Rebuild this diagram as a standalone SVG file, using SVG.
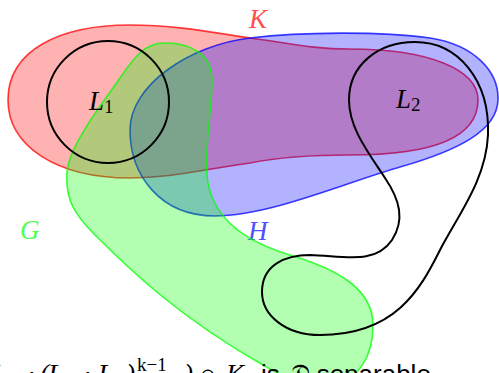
<svg xmlns="http://www.w3.org/2000/svg" width="499" height="373" viewBox="0 0 499 373">
<style>
.set{stroke-width:1.6;fill-opacity:0.3;stroke-opacity:0.75}
.red{fill:#ff0000;stroke:#ff0000}
.blue{fill:#0000ff;stroke:#0000ff}
.green{fill:#00ff00;stroke:#00ff00}
.lang{fill:none;stroke:#000;stroke-width:2}
.m{font-family:"Liberation Serif","DejaVu Serif",serif;font-style:italic;font-size:27px}
.sub{font-family:"Liberation Serif","DejaVu Serif",serif;font-style:normal;font-size:19px}
.t{font-family:"Liberation Sans","DejaVu Sans",sans-serif;font-size:26px}
</style>
<rect width="499" height="373" fill="#fff"/>
<g id="K">
<path class="set red" d="M 8,100 C 8,50 60,25 130,25 C 180,25 220,34 250,38 C 290,43 310,49 350,49 C 430,49 478,70 478,100 C 478,135 440,155 350,155 C 300,155 270,159 250,163 C 200,170 170,178 130,178 C 55,178 8,145 8,100 Z"/>
<text class="m" x="249" y="28" fill="#ff5050">K</text>
</g>
<g id="H">
<path class="set blue" d="M 130,130 C 130,85 190,45 250,38 C 300,32 380,31 430,38 C 475,45 499,72 498,100 C 497,130 460,150 400,167 C 350,181 270,216 215,216 C 160,216 130,175 130,130 Z"/>
<text class="m" x="248" y="240" fill="#5050ff">H</text>
</g>
<g id="G">
<path class="set green" d="M 165,43 C 192,43 212,55 212,80 C 212,110 205,140 207,175 C 210,215 240,240 290,255 C 340,270 373,290 373,325 C 373,358 358,380 330,386 C 305,390 285,378 263,365 C 180,318 130,270 95,235 C 75,215 65,200 67,172 C 69,145 105,100 120,78 C 135,56 145,43 165,43 Z"/>
<text class="m" x="20" y="239" fill="#50ff50">G</text>
</g>
<g id="L1">
<circle class="lang" cx="108" cy="102" r="61"/>
<text x="89" y="110"><tspan class="m">L</tspan><tspan class="sub" dy="3">1</tspan></text>
</g>
<g id="L2">
<path class="lang" d="M 415,42 C 458,42 490,80 488,135 C 486,180 458,215 440,250 C 420,290 395,335 320,335 C 285,335 262,315 262,292 C 262,265 285,255 310,255 C 345,256 375,265 392,240 C 405,220 400,200 385,178 C 368,152 349,128 349,100 C 349,65 378,42 415,42 Z"/>
<text x="396" y="108"><tspan class="m">L</tspan><tspan class="sub" dy="3">2</tspan></text>
</g>
<g id="caption">
<text y="383"><tspan class="m" x="-24">(</tspan><tspan class="m" x="-10">L</tspan><tspan class="sub" dy="5">1</tspan><tspan class="m" x="28" dy="-5">·</tspan><tspan class="m" x="40">(</tspan><tspan class="m" x="48">L</tspan><tspan class="sub" dy="5">1</tspan><tspan class="m" x="84" dy="-5">·</tspan><tspan class="m" x="98">L</tspan><tspan class="sub" dy="5">2</tspan><tspan class="m" x="126" dy="-5">)</tspan><tspan class="sub" x="137" dy="-12" font-style="italic">k</tspan><tspan class="sub" dy="0">−1</tspan><tspan class="m" x="184" dy="12">)</tspan><tspan class="m" x="198" font-style="normal">∩</tspan><tspan class="m" x="226">K</tspan><tspan class="t" x="261">is</tspan><tspan class="m" x="288" font-style="normal">𝔇</tspan><tspan class="t" x="308">-separable</tspan></text>
</g>
</svg>
